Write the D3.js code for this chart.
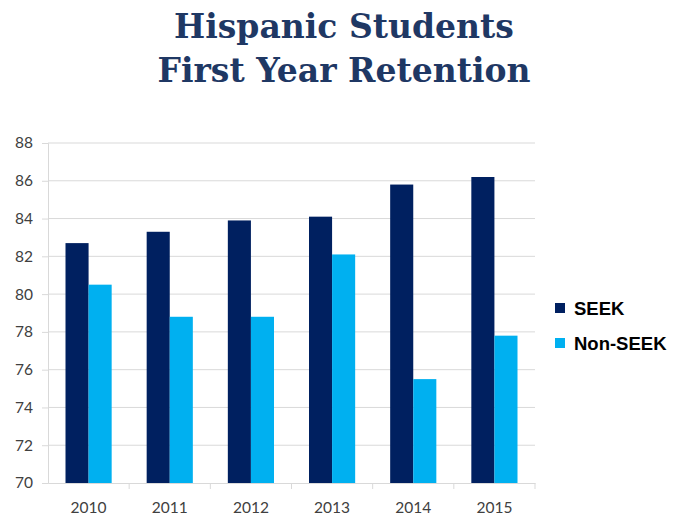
<!DOCTYPE html>
<html>
<head>
<meta charset="utf-8">
<script src="https://cdn.jsdelivr.net/npm/d3@7"></script>
<style>
  body { margin: 0; background: #fff; }
  svg { display: block; }
</style>
</head>
<body>
<svg id="chart" width="675" height="519"></svg>
<script>
// chart data
const years = ["2010", "2011", "2012", "2013", "2014", "2015"];
const seek = [82.7, 83.3, 83.9, 84.1, 85.8, 86.2];
const nonSeek = [80.5, 78.8, 78.8, 82.1, 75.5, 77.8];
const seriesNames = ["SEEK", "Non-SEEK"];
const seriesColors = ["#002060", "#00b0f0"];
const yTicks = [70, 72, 74, 76, 78, 80, 82, 84, 86, 88];
const titleLines = ["Hispanic Students", "First Year Retention"];

const svg = d3.select("#chart");
const margin = {top: 143, left: 48, right: 140, bottom: 36};
const plotW = 535 - margin.left;
const plotH = 483 - margin.top;

// title
svg.append("text")
    .attr("text-anchor", "middle")
    .attr("fill", "#1f3864")
    .style("font-family", "'DejaVu Serif', 'Liberation Serif', serif")
    .style("font-weight", "bold")
    .style("font-size", "33px")
    .selectAll("tspan")
    .data(titleLines)
    .enter().append("tspan")
    .attr("x", 344)
    .attr("y", (d, i) => 38 + i * 44)
    .text(d => d);

const g = svg.append("g").attr("transform", `translate(${margin.left},${margin.top})`);

const x = d3.scaleBand().domain(years).range([0, plotW]);
const x1 = d3.scaleBand().domain(seriesNames).range([17.5, x.bandwidth() - 17.5]);
const y = d3.scaleLinear().domain([70, 88]).range([plotH, 0]);

// gridlines
g.append("g")
    .selectAll("line")
    .data(yTicks.slice(1))
    .enter().append("line")
    .attr("x1", 0).attr("x2", plotW)
    .attr("y1", d => y(d)).attr("y2", d => y(d))
    .attr("stroke", "#d9d9d9")
    .attr("stroke-width", 1);

// y axis
const yAxis = g.append("g")
    .call(d3.axisLeft(y).tickValues(yTicks).tickSize(6).tickPadding(9));
yAxis.select(".domain").attr("stroke", "#d9d9d9");
yAxis.selectAll(".tick line").attr("stroke", "#d9d9d9");
yAxis.selectAll("text")
    .attr("fill", "#404040")
    .style("font-family", "Lato, 'Open Sans', sans-serif")
    .style("font-size", "15.5px");

// bars
const rows = years.map((yr, i) => ({year: yr, values: [seek[i], nonSeek[i]]}));
const groups = g.append("g")
    .selectAll("g")
    .data(rows)
    .enter().append("g")
    .attr("transform", d => `translate(${x(d.year)},0)`);

groups.selectAll("rect")
    .data(d => d.values.map((v, j) => ({name: seriesNames[j], value: v, color: seriesColors[j]})))
    .enter().append("rect")
    .attr("x", d => x1(d.name))
    .attr("width", x1.bandwidth())
    .attr("y", d => y(d.value))
    .attr("height", d => plotH - y(d.value))
    .attr("fill", d => d.color);

// x axis
const xAxis = g.append("g")
    .attr("transform", `translate(0,${plotH})`)
    .call(d3.axisBottom(x).tickSize(0).tickPadding(19));
xAxis.select(".domain").attr("stroke", "#d9d9d9");
xAxis.selectAll("text")
    .attr("fill", "#404040")
    .style("font-family", "Lato, 'Open Sans', sans-serif")
    .style("font-size", "15.5px");

// category boundary ticks
g.append("g")
    .selectAll("line")
    .data(years.map(d => x(d) + x.bandwidth()))
    .enter().append("line")
    .attr("x1", d => d).attr("x2", d => d)
    .attr("y1", plotH).attr("y2", plotH + 6)
    .attr("stroke", "#d9d9d9");

// legend
const legend = svg.append("g")
    .selectAll("g")
    .data(seriesNames)
    .enter().append("g")
    .attr("transform", (d, i) => `translate(555,${308 + i * 35})`);

legend.append("rect")
    .attr("x", 0).attr("y", -5)
    .attr("width", 10).attr("height", 10)
    .attr("fill", (d, i) => seriesColors[i]);

legend.append("text")
    .attr("x", 19)
    .attr("dy", "0.36em")
    .attr("fill", "#000")
    .style("font-family", "'Liberation Sans', Arial, sans-serif")
    .style("font-weight", "bold")
    .style("font-size", "18.5px")
    .text(d => d);
</script>
</body>
</html>
